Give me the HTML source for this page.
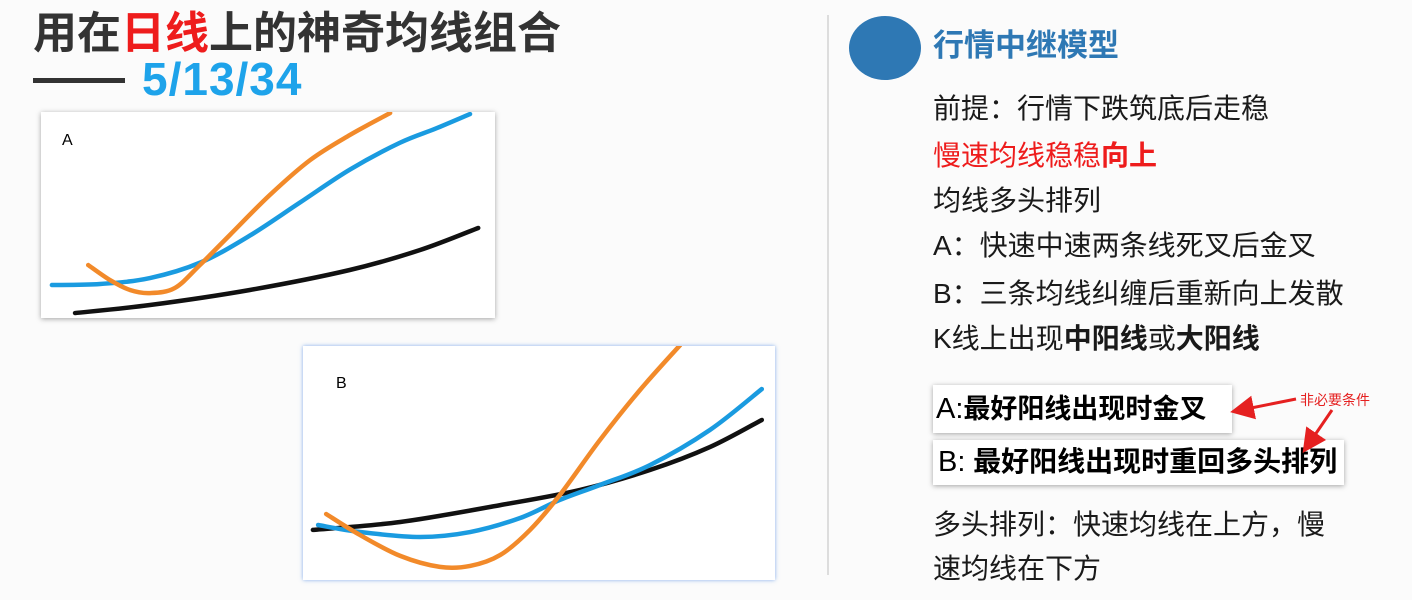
<!DOCTYPE html>
<html><head><meta charset="utf-8">
<style>
body{margin:0;width:1412px;height:600px;background:#fbfbfb;position:relative;overflow:hidden;font-family:"Liberation Sans","Noto Sans CJK SC",sans-serif;}
.abs{position:absolute;white-space:nowrap;}
.t{font-size:28px;color:#1a1a1a;left:933px;line-height:1;}
.box{position:absolute;background:#fff;box-shadow:0 1px 5px rgba(0,0,0,0.35);}
</style></head><body>
<div class="abs" style="left:33px;top:12px;font-size:44px;font-weight:bold;color:#333;line-height:1;">用在<span style="color:#ee1c1c">日线</span>上的神奇均线组合</div>
<div class="abs" style="left:33px;top:78px;width:92px;height:5px;background:#333;"></div>
<div class="abs" style="left:142px;top:56px;font-size:46px;letter-spacing:1px;font-weight:bold;color:#1ea3ea;line-height:1;">5/13/34</div>

<div class="box" style="left:41px;top:112px;width:454px;height:206px;"></div>
<div class="box" style="left:303px;top:346px;width:472px;height:234px;box-shadow:0 0 4px rgba(80,140,230,0.7);"></div>
<div class="abs" style="left:62px;top:132px;font-size:16px;">A</div>
<div class="abs" style="left:336px;top:375px;font-size:16px;">B</div>
<svg id="charts" class="abs" style="left:0;top:0" width="1412" height="600">
<defs>
<clipPath id="clipA"><rect x="41" y="112" width="454" height="206"/></clipPath>
<clipPath id="clipB"><rect x="303" y="346" width="472" height="234"/></clipPath>
</defs>
</svg>

<div class="abs" style="left:827px;top:15px;width:2px;height:560px;background:#ddd;"></div>
<div class="abs" style="left:849px;top:16px;width:72px;height:64px;border-radius:50%;background:#2e78b4;"></div>
<div class="abs" style="left:933px;top:30px;font-size:31px;font-weight:bold;color:#2e78b4;line-height:1;">行情中继模型</div>
<div class="abs t" style="top:95px;">前提：行情下跌筑底后走稳</div>
<div class="abs t" style="top:142px;color:#ee1c1c;">慢速均线稳稳<b>向上</b></div>
<div class="abs t" style="top:187px;">均线多头排列</div>
<div class="abs t" style="top:232px;">A：快速中速两条线死叉后金叉</div>
<div class="abs t" style="top:280px;">B：三条均线纠缠后重新向上发散</div>
<div class="abs t" style="top:325px;">K线上出现<b>中阳线</b>或<b>大阳线</b></div>

<div class="box" style="left:933px;top:385px;width:299px;height:48px;"></div>
<div class="abs" style="left:936px;top:395px;font-size:27px;font-weight:bold;line-height:1;"><span style="font-weight:normal;font-size:29px;">A:</span>最好阳线出现时金叉</div>
<div class="box" style="left:933px;top:440px;width:411px;height:45px;"></div>
<div class="abs" style="left:938px;top:448px;font-size:28px;font-weight:bold;line-height:1;"><span style="font-weight:normal;font-size:29px;">B:</span> 最好阳线出现时重回多头排列</div>
<div class="abs" style="left:1300px;top:390px;font-size:14px;color:#e52020;">非必要条件</div>
<svg class="abs" style="left:0;top:0" width="1412" height="600">
<defs><marker id="ah" markerWidth="8" markerHeight="8" refX="6" refY="4" orient="auto"><path d="M0,0 L8,4 L0,8 z" fill="#e52020"/></marker></defs>
<line x1="1296" y1="399" x2="1236" y2="411" stroke="#e52020" stroke-width="3" marker-end="url(#ah)"/>
<line x1="1332" y1="410" x2="1306" y2="448" stroke="#e52020" stroke-width="3" marker-end="url(#ah)"/>
</svg>
<div class="abs t" style="top:511px;">多头排列：快速均线在上方，慢</div>
<div class="abs t" style="top:555px;">速均线在下方</div>

<script>
const aBlueX=[2.4,13,24,35.2,46,57,68,79,87,94.5];
const aBlueY=[16,16.5,19.4,27,40,56,72,85,92,99];
const aOrangeX=[10.4,15.2,19.6,24,29.5,35,41.6,50.4,59.3,68,76.9];
const aOrangeY=[25.7,18.4,13.6,12.1,14.6,25.7,40.3,59.7,76.7,88.8,99.5];
const aBlackX=[7.5,24,46,68,83.5,96.3];
const aBlackY=[2.4,6.3,13.6,23.3,33,43.7];
const bBlackX=[2.1,20.6,41.8,58.7,73.5,86.2,97.2];
const bBlackY=[21.4,24.8,32,38.5,47,56.8,68.4];
const bBlueX=[3.2,12.1,24.8,35.4,46,54.4,62.9,73.5,86.2,97.2];
const bBlueY=[23.5,20.5,18.4,20.5,26.5,34.2,40.6,49.1,64.1,81.6];
const bOrangeX=[4.9,12.1,20.6,29,35.4,41.8,48.1,54.4,62.9,71.4,79.9];
const bOrangeY=[28.2,19.2,10.3,5.6,6,10.7,21.4,36.3,59.8,81.2,100.4];

const svg=document.getElementById('charts');
function axis(x0,y0,w,h){return {x:v=>x0+v/100*w,y:v=>y0+h-v/100*h};}
const axA=axis(41,112,454,206), axB=axis(303,346,472,234);
function smooth(p){
  let d='M'+p[0][0]+','+p[0][1];
  for(let i=0;i<p.length-1;i++){
    const a=p[Math.max(i-1,0)],b=p[i],c=p[i+1],e=p[Math.min(i+2,p.length-1)];
    d+=' C'+(b[0]+(c[0]-a[0])/6)+','+(b[1]+(c[1]-a[1])/6)+' '+(c[0]-(e[0]-b[0])/6)+','+(c[1]-(e[1]-b[1])/6)+' '+c[0]+','+c[1];
  }
  return d;
}
function draw(ax,xs,ys,color,clip,name){
  const pts=xs.map((v,i)=>[ax.x(v),ax.y(ys[i])]);
  const p=document.createElementNS('http://www.w3.org/2000/svg','path');
  p.setAttribute('d',smooth(pts));
  p.setAttribute('fill','none');
  p.setAttribute('stroke',color);
  p.setAttribute('stroke-width','4.5');
  p.setAttribute('stroke-linecap','round');
  p.setAttribute('clip-path','url(#'+clip+')');
  
  
  svg.appendChild(p);
}
draw(axA,aBlackX,aBlackY,'#111','clipA','chart-a-slow-ma');
draw(axA,aBlueX,aBlueY,'#1a9be0','clipA','chart-a-mid-ma');
draw(axA,aOrangeX,aOrangeY,'#f28a2a','clipA','chart-a-fast-ma');
draw(axB,bBlackX,bBlackY,'#111','clipB','chart-b-slow-ma');
draw(axB,bBlueX,bBlueY,'#1a9be0','clipB','chart-b-mid-ma');
draw(axB,bOrangeX,bOrangeY,'#f28a2a','clipB','chart-b-fast-ma');
</script>
</body></html>
